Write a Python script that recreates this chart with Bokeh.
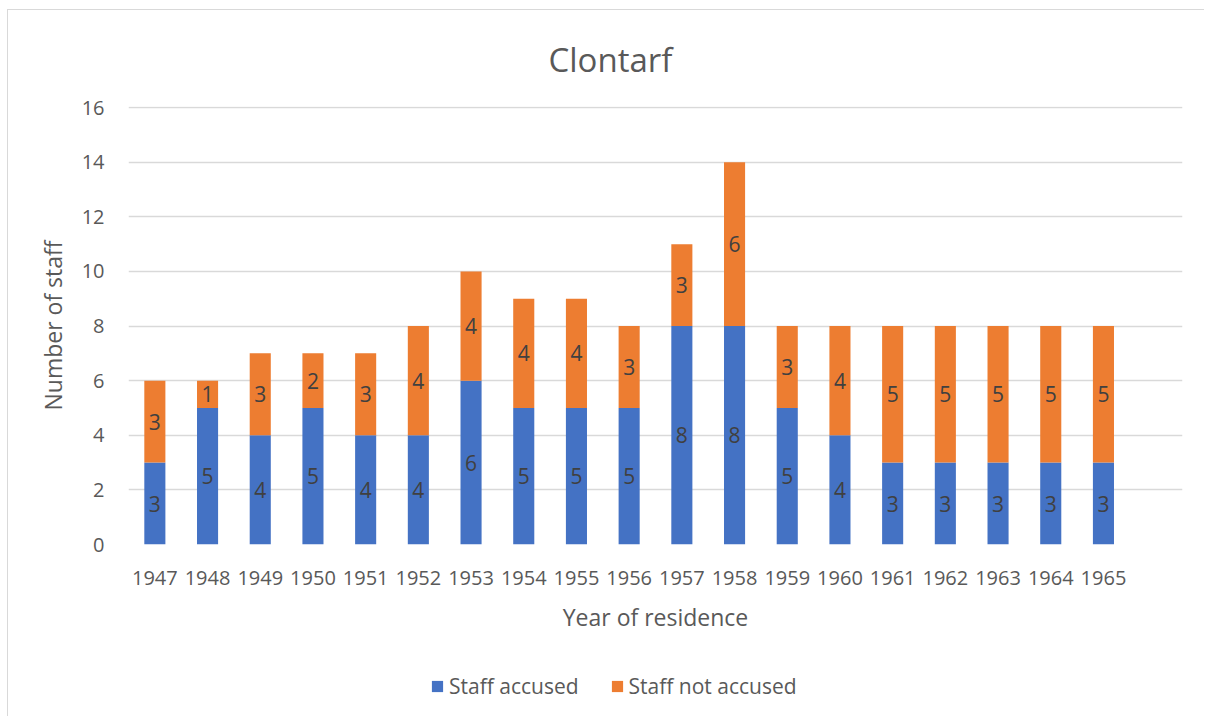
from bokeh.plotting import figure
from bokeh.layouts import column
from bokeh.models import (ColumnDataSource, FactorRange, Range1d, LabelSet,
                          Legend, LegendItem, FixedTicker)
from bokeh.embed import file_html
from bokeh.resources import INLINE
from bokeh.core.properties import value

# ---- data ----
years = ["1947", "1948", "1949", "1950", "1951", "1952", "1953", "1954", "1955",
         "1956", "1957", "1958", "1959", "1960", "1961", "1962", "1963", "1964", "1965"]
staff_accused = [3, 5, 4, 5, 4, 4, 6, 5, 5, 5, 8, 8, 5, 4, 3, 3, 3, 3, 3]
staff_not_accused = [3, 1, 3, 2, 3, 4, 4, 4, 4, 3, 3, 6, 3, 4, 5, 5, 5, 5, 5]
y_ticks = [0, 2, 4, 6, 8, 10, 12, 14, 16]
series_names = ["Staff accused", "Staff not accused"]

FONT = "Open Sans"
TXT = "#595959"
BLUE = "#4472C4"
ORANGE = "#ED7D31"
W = 1196

src = ColumnDataSource(dict(
    year=years,
    accused=staff_accused,
    not_accused=staff_not_accused,
    mid_a=[a / 2 for a in staff_accused],
    mid_n=[a + n / 2 for a, n in zip(staff_accused, staff_not_accused)],
    lab_a=[str(v) for v in staff_accused],
    lab_n=[str(v) for v in staff_not_accused],
))

p = figure(width=W, height=640, output_backend="svg", toolbar_location=None,
           x_range=FactorRange(factors=years + [" "], range_padding=0),
           y_range=Range1d(0, 16.04),
           min_border_left=120, min_border_right=22, min_border_top=96,
           min_border_bottom=106)
p.outline_line_color = None
p.background_fill_color = "white"
p.border_fill_color = "white"

rs = p.vbar_stack(["accused", "not_accused"], x="year", width=0.4,
                  color=[BLUE, ORANGE], line_color=None, source=src)

for ycol, tcol in (("mid_a", "lab_a"), ("mid_n", "lab_n")):
    p.add_layout(LabelSet(x="year", y=ycol, text=tcol, source=src,
                          text_align="center", text_baseline="middle",
                          text_font=value(FONT), text_font_size="21px",
                          text_color="#404040"))

# title
p.title.text = "Clontarf"
p.title.align = "left"
p.title.offset = 420
p.title.text_font = FONT
p.title.text_font_size = "33px"
p.title.text_font_style = "normal"
p.title.text_color = TXT
p.title.standoff = 49

# grid
p.xgrid.grid_line_color = None
p.ygrid.grid_line_color = "#D9D9D9"
p.ygrid.grid_line_width = 1.3

# y axis
p.yaxis.ticker = FixedTicker(ticks=y_ticks)
p.yaxis.axis_line_color = None
p.yaxis.major_tick_line_color = None
p.yaxis.minor_tick_line_color = None
p.yaxis.major_tick_out = 0
p.yaxis.major_label_standoff = 24
p.yaxis.major_label_text_font = FONT
p.yaxis.major_label_text_font_size = "20px"
p.yaxis.major_label_text_color = TXT
p.yaxis.axis_label = "Number of staff"
p.yaxis.axis_label_text_font = FONT
p.yaxis.axis_label_text_font_size = "23px"
p.yaxis.axis_label_text_font_style = "normal"
p.yaxis.axis_label_text_color = TXT
p.yaxis.axis_label_standoff = 10

# x axis
p.xaxis.axis_line_color = None
p.xaxis.major_tick_line_color = None
p.xaxis.minor_tick_line_color = None
p.xaxis.major_tick_out = 0
p.xaxis.major_label_standoff = 19
p.xaxis.major_label_text_font = FONT
p.xaxis.major_label_text_font_size = "20px"
p.xaxis.major_label_text_color = TXT
p.xaxis.axis_label = "Year of residence"
p.xaxis.axis_label_text_font = FONT
p.xaxis.axis_label_text_font_size = "23px"
p.xaxis.axis_label_text_font_style = "normal"
p.xaxis.axis_label_text_color = TXT
p.xaxis.axis_label_standoff = 7

# legend strip below the chart (swatch glyphs sit outside its visible range)
lg = figure(width=W, height=66, output_backend="svg", toolbar_location=None,
            x_axis_location=None, y_axis_location=None,
            min_border=0, x_range=Range1d(0, 1), y_range=Range1d(0, 1))
lg.outline_line_color = None
lg.grid.grid_line_color = None
lg.border_fill_color = "white"
swatch = ColumnDataSource(dict(x=[-10], top=[-10]))
r_a = lg.vbar(x="x", top="top", width=0.4, color=BLUE, line_color=None, source=swatch)
r_n = lg.vbar(x="x", top="top", width=0.4, color=ORANGE, line_color=None, source=swatch)
legend = Legend(items=[LegendItem(label=series_names[0], renderers=[r_a]),
                       LegendItem(label=series_names[1], renderers=[r_n])],
                orientation="horizontal", location=(302, 16),
                label_text_font=FONT, label_text_font_size="21px",
                label_text_color=TXT, glyph_width=14, glyph_height=14,
                label_standoff=5, spacing=31, border_line_color=None,
                background_fill_alpha=0, margin=0, padding=0)
lg.add_layout(legend)

layout = column(p, lg, margin=(9, 0, 0, 7),
                styles={"border-left": "1px solid #D9D9D9",
                        "border-top": "1px solid #D9D9D9"})
open("out.html", "w").write(file_html(layout, INLINE))
